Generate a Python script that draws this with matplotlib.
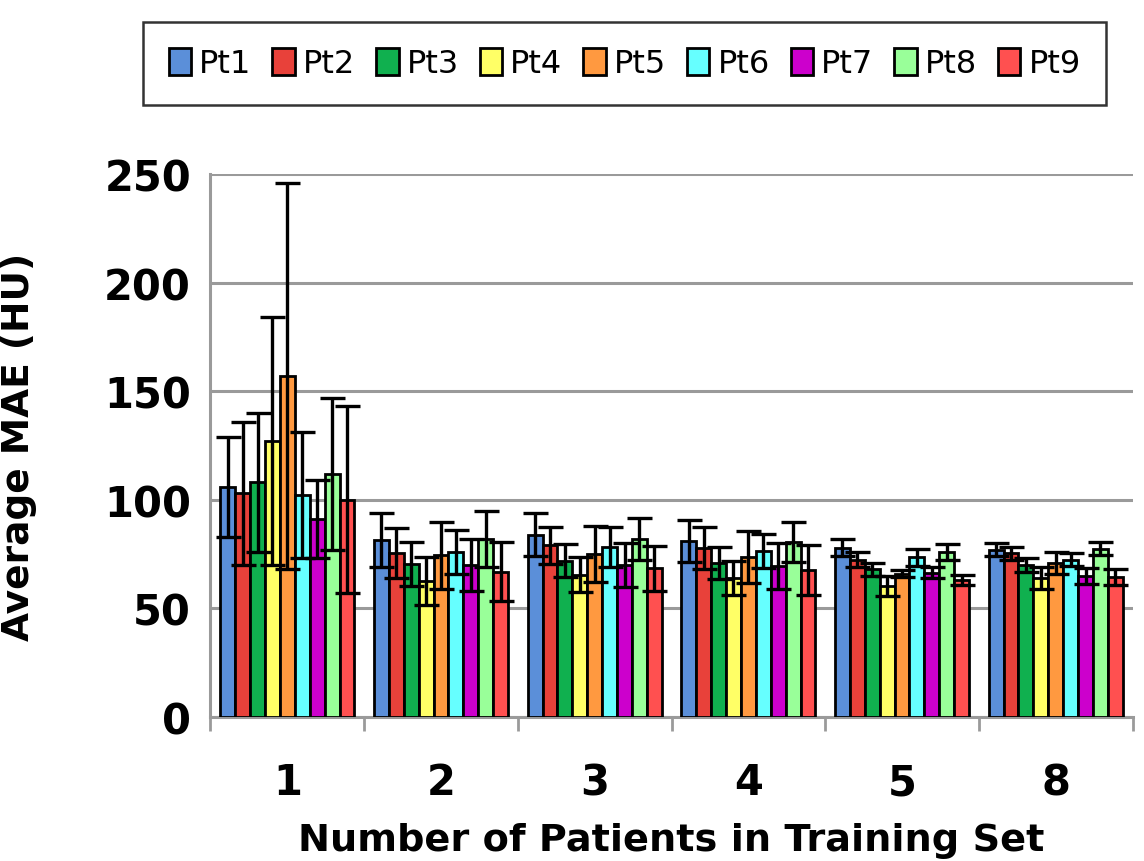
import numpy as np
import matplotlib.pyplot as plt
from matplotlib.ticker import FixedLocator

# group labels on the x axis
groups = ['1', '2', '3', '4', '5', '8']
patients = ['Pt1', 'Pt2', 'Pt3', 'Pt4', 'Pt5', 'Pt6', 'Pt7', 'Pt8', 'Pt9']
colors = ['#5b8fd9', '#e8413a', '#10b04f', '#ffff66', '#ff9940',
          '#66ffff', '#cc00cc', '#99ff99', '#ff5050']

# mean MAE per patient for each group
pt1 = [106, 81.5, 84, 81, 78, 77]
pt2 = [103, 75.5, 79, 78, 72.5, 75.5]
pt3 = [108, 70.5, 72, 71, 68, 70]
pt4 = [127, 62.5, 65.5, 64, 60.5, 64]
pt5 = [157, 74.5, 75, 73.5, 66, 71]
pt6 = [102, 76, 78.5, 76.5, 73.5, 72.5]
pt7 = [91, 70, 70, 69.5, 66.5, 65]
pt8 = [112, 82, 82, 80.5, 76, 77.5]
pt9 = [100, 67, 68.5, 67.5, 63, 64.5]

# standard deviations (error bars)
err1 = [23, 12.5, 10, 9.7, 4, 3]
err2 = [33, 11.5, 8.7, 9.7, 3.5, 3]
err3 = [32, 10.3, 7.7, 7.5, 3, 3.3]
err4 = [57, 11, 8, 8, 4.6, 5]
err5 = [89, 15.5, 13, 12, 1.5, 5]
err6 = [29, 10, 9.2, 7.8, 3.8, 3]
err7 = [18, 12, 10, 10.7, 2.5, 3.8]
err8 = [35, 13, 9.6, 9.2, 3.6, 3]
err9 = [43, 13.5, 10.3, 11.5, 2.3, 3.8]

means = [pt1, pt2, pt3, pt4, pt5, pt6, pt7, pt8, pt9]
errs = [err1, err2, err3, err4, err5, err6, err7, err8, err9]

fig = plt.figure(figsize=(11.44, 8.62), dpi=100)
ax = fig.add_axes([0.184, 0.167, 0.806, 0.63])

x = np.arange(len(groups))
w = 0.097
for i in range(len(patients)):
    pos = x + (i - 4) * w
    ax.bar(pos, means[i], w, color=colors[i], edgecolor='black', linewidth=2,
           label=patients[i], zorder=3)
    ax.errorbar(pos, means[i], yerr=errs[i], fmt='none', ecolor='black',
                elinewidth=2.4, capsize=9, capthick=2.4, zorder=4)

ax.set_ylim(0, 250)
ax.set_xlim(-0.5, len(groups) - 0.5)
ax.set_yticks([0, 50, 100, 150, 200, 250])
ax.yaxis.grid(True, color='#9a9a9a', linewidth=2.2, zorder=0)
ax.set_axisbelow(True)

ax.set_xticks(x)
ax.set_xticklabels(groups)
ax.xaxis.set_minor_locator(FixedLocator(np.arange(-0.5, len(groups), 1.0)))
ax.tick_params(axis='x', which='major', length=0, pad=32)
ax.tick_params(axis='x', which='minor', length=10, width=2, color='#9a9a9a')
ax.tick_params(axis='y', length=0, pad=14)
for lab in ax.get_xticklabels() + ax.get_yticklabels():
    lab.set_fontsize(30)
    lab.set_fontweight('bold')

for s in ['top', 'right']:
    ax.spines[s].set_visible(False)
ax.spines['left'].set_color('#9a9a9a')
ax.spines['left'].set_linewidth(2.2)
ax.spines['bottom'].set_color('#9a9a9a')
ax.spines['bottom'].set_linewidth(2.2)

ax.set_xlabel('Number of Patients in Training Set', fontsize=27.5,
              fontweight='bold', labelpad=13)
ax.set_ylabel('Average MAE (HU)', fontsize=27, fontweight='bold', labelpad=48)

leg = fig.legend(loc='center', bbox_to_anchor=(0.546, 0.925), ncol=9,
                 fontsize=23, frameon=True, fancybox=False, handlelength=0.7,
                 handleheight=0.9, handletextpad=0.25, columnspacing=0.66,
                 borderpad=0.8, edgecolor='black')
leg.get_frame().set_linewidth(1.8)

fig.savefig('out.png', dpi=100)
